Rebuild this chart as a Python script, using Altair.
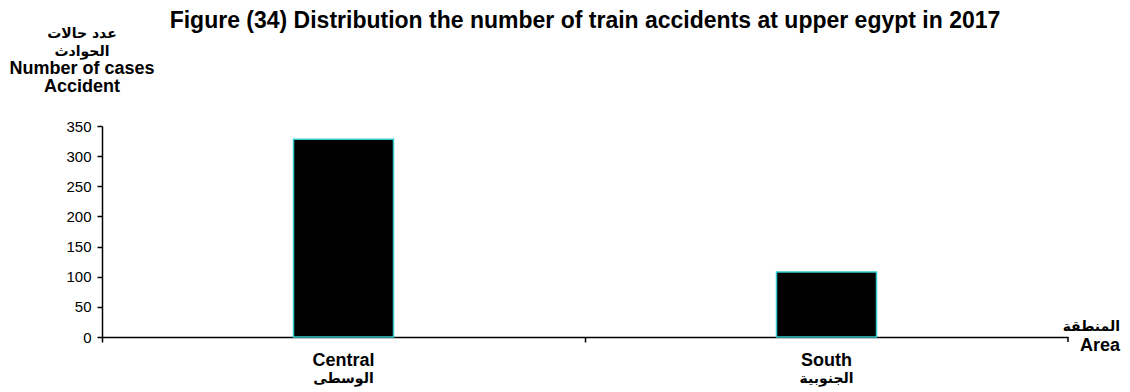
import altair as alt
import pandas as pd

# ---- data ----
areas_en = ["Central", "South"]
areas_ar = ["الوسطى", "الجنوبية"]
cases = [328, 108]
y_ticks = [0, 50, 100, 150, 200, 250, 300, 350]

title_text = "Figure (34)  Distribution the number of train accidents at upper egypt in 2017"
ytitle_ar = ["عدد حالات", "الحوادث"]
ytitle_en = ["Number of cases", "Accident"]
xtitle_ar = "المنطقة"
xtitle_en = "Area"

df = pd.DataFrame({"Area": areas_en, "AreaAr": areas_ar, "Cases": cases})
one = pd.DataFrame({"k": [0]})

W, H = 966, 211
LAT = "Liberation Sans"
AR = "DejaVu Sans"

xscale = alt.Scale(domain=areas_en, paddingInner=0, paddingOuter=0)

bars = alt.Chart(df).mark_bar(
    color="black", stroke="#33CCCC", strokeWidth=1.5, size=100
).encode(
    x=alt.X("Area:N", scale=xscale, sort=areas_en,
            axis=alt.Axis(bandPosition=0, labels=False, title=None, ticks=True,
                          tickSize=5, tickColor="black", domainColor="black",
                          domainWidth=1.5, tickWidth=1.5, grid=False)),
    y=alt.Y("Cases:Q", scale=alt.Scale(domain=[0, 350], nice=False),
            axis=alt.Axis(values=y_ticks, title=None, grid=False, tickSize=5,
                          tickColor="black", domainColor="black", domainWidth=1.5,
                          tickWidth=1.5, labelFont=LAT, labelFontSize=15,
                          labelColor="black", labelPadding=6)),
)

lab_en = alt.Chart(df).mark_text(
    font=LAT, fontSize=18, fontWeight="bold", color="black", baseline="middle"
).encode(x=alt.X("Area:N", scale=xscale, sort=areas_en), y=alt.value(235), text="Area:N")

lab_ar = alt.Chart(df).mark_text(
    font=AR, fontSize=14, fontWeight="bold", color="black", baseline="middle"
).encode(x=alt.X("Area:N", scale=xscale, sort=areas_en), y=alt.value(253), text="AreaAr:N")

end_tick = alt.Chart(one).mark_rule(color="black", strokeWidth=1.5).encode(
    x=alt.value(W), y=alt.value(H), y2=alt.value(H + 5)
)

def txt(s, x, y, size, font, align="center"):
    return alt.Chart(one).mark_text(
        font=font, fontSize=size, fontWeight="bold",
        color="black", align=align, baseline="middle"
    ).encode(x=alt.value(x), y=alt.value(y), text=alt.value(s))

annots = [
    txt(title_text, 483, -105, 23, LAT),
    txt(ytitle_ar[0], -20, -92, 14, AR),
    txt(ytitle_ar[1], -20, -74, 14, AR),
    txt(ytitle_en[0], -20, -57, 18, LAT),
    txt(ytitle_en[1], -20, -39, 18, LAT),
    txt(xtitle_ar, 1018, 201, 14, AR, "right"),
    txt(xtitle_en, 1018, 220, 18, LAT, "right"),
]

chart = alt.layer(bars, lab_en, lab_ar, end_tick, *annots).properties(
    width=W, height=H,
    autosize=alt.AutoSizeParams(type="none"),
    padding={"left": 94, "top": 118, "right": 54, "bottom": 50},
).configure_view(stroke=None)

chart.save("out.html", embed_options={"renderer": "svg", "actions": False})
